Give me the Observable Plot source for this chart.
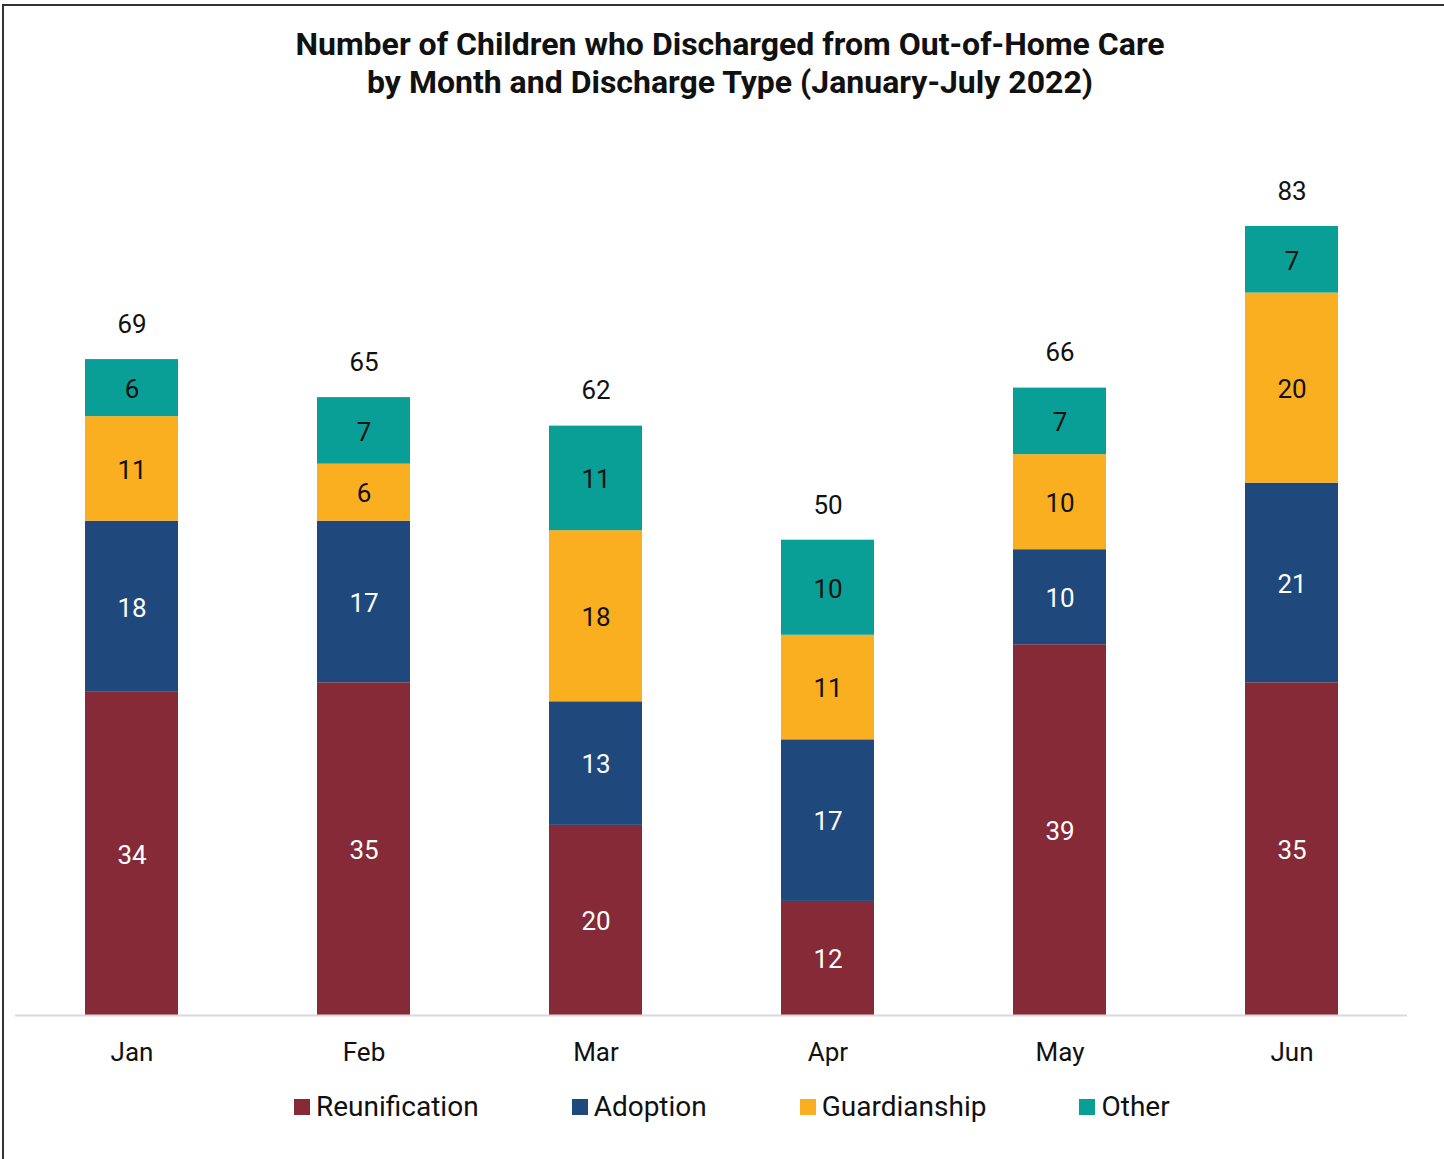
<!DOCTYPE html>
<html>
<head>
<meta charset="utf-8">
<script src="https://cdn.jsdelivr.net/npm/d3@7"></script>
<script src="https://cdn.jsdelivr.net/npm/@observablehq/plot@0.6"></script>
<style>
  html, body { margin: 0; padding: 0; background: #fff; overflow: hidden; }
  #wrap { position: relative; width: 1444px; height: 1159px; overflow: hidden; font-family: Roboto, sans-serif; }
  #frame { position: absolute; left: 2px; top: 4px; width: 3000px; height: 3000px; border: 2px solid #333; box-sizing: border-box; }
  #title { position: absolute; left: 0; top: 25px; width: 1460px; text-align: center; font-weight: bold; font-size: 32px; line-height: 38px; color: #111; }
  #chart { position: absolute; left: 0; top: 0; }
  #legend { position: absolute; left: 294px; top: 1090px; display: flex; gap: 93px; font-size: 28px; color: #111; }
  .item { display: flex; align-items: center; }
  .sw { width: 16px; height: 16px; margin-right: 6px; }
</style>
</head>
<body>
<div id="wrap">
  <div id="frame"></div>
  <div id="chart"></div>
  <div id="title">Number of Children who Discharged from Out-of-Home Care<br>by Month and Discharge Type (January-July 2022)</div>
  <div id="legend"></div>
</div>
<script>
const months = ["Jan", "Feb", "Mar", "Apr", "May", "Jun"];
const seriesNames = ["Reunification", "Adoption", "Guardianship", "Other"];
const seriesColors = ["#862a38", "#1f497d", "#f9af1f", "#0a9f96"];
const labelColors = ["#ffffff", "#ffffff", "#111111", "#111111"];
const reunification = [34, 35, 20, 12, 39, 35];
const adoption = [18, 17, 13, 17, 10, 21];
const guardianship = [11, 6, 18, 11, 10, 20];
const other = [6, 7, 11, 10, 7, 7];
const totals = [69, 65, 62, 50, 66, 83];

const seriesValues = [reunification, adoption, guardianship, other];
const rows = [];
seriesNames.forEach((s, si) => {
  months.forEach((m, mi) => {
    rows.push({month: m, series: s, si, value: seriesValues[si][mi]});
  });
});
const totalRows = months.map((m, i) => ({month: m, total: totals[i]}));

const stackOpts = {x: "month", y: "value", z: "series", order: seriesNames};

const plot = Plot.plot({
  width: 1444,
  height: 1159,
  marginLeft: 15,
  marginRight: 37,
  marginTop: 64.4,
  marginBottom: 144,
  style: {fontFamily: "Roboto, sans-serif", background: "transparent"},
  x: {domain: months, padding: 0.6, paddingOuter: 0.3, axis: null},
  y: {domain: [0, 100], axis: null},
  color: {type: "ordinal", domain: seriesNames, range: seriesColors},
  marks: [
    Plot.barY(rows, Plot.stackY({...stackOpts, fill: "series"})),
    Plot.ruleY([0], {stroke: "#d9d9d9", strokeWidth: 2}),
    ...[0, 1, 2, 3].map(si =>
      Plot.text(rows, Plot.stackY({
        ...stackOpts,
        text: d => (d.si === si ? String(d.value) : ""),
        fill: labelColors[si],
        fontSize: 26,
        dy: 1.5
      }))
    ),
    Plot.text(totalRows, {x: "month", y: "total", text: "total", dy: -35, fontSize: 26, fill: "#111"}),
    Plot.text(months, {x: d => d, y: 0, dy: 37, text: d => d, fontSize: 26, fill: "#111"})
  ]
});
document.getElementById("chart").appendChild(plot);

const legend = document.getElementById("legend");
seriesNames.forEach((s, i) => {
  const it = document.createElement("div");
  it.className = "item";
  const sw = document.createElement("div");
  sw.className = "sw";
  sw.style.background = seriesColors[i];
  const t = document.createElement("span");
  t.textContent = s;
  it.appendChild(sw);
  it.appendChild(t);
  legend.appendChild(it);
});
</script>
</body>
</html>
